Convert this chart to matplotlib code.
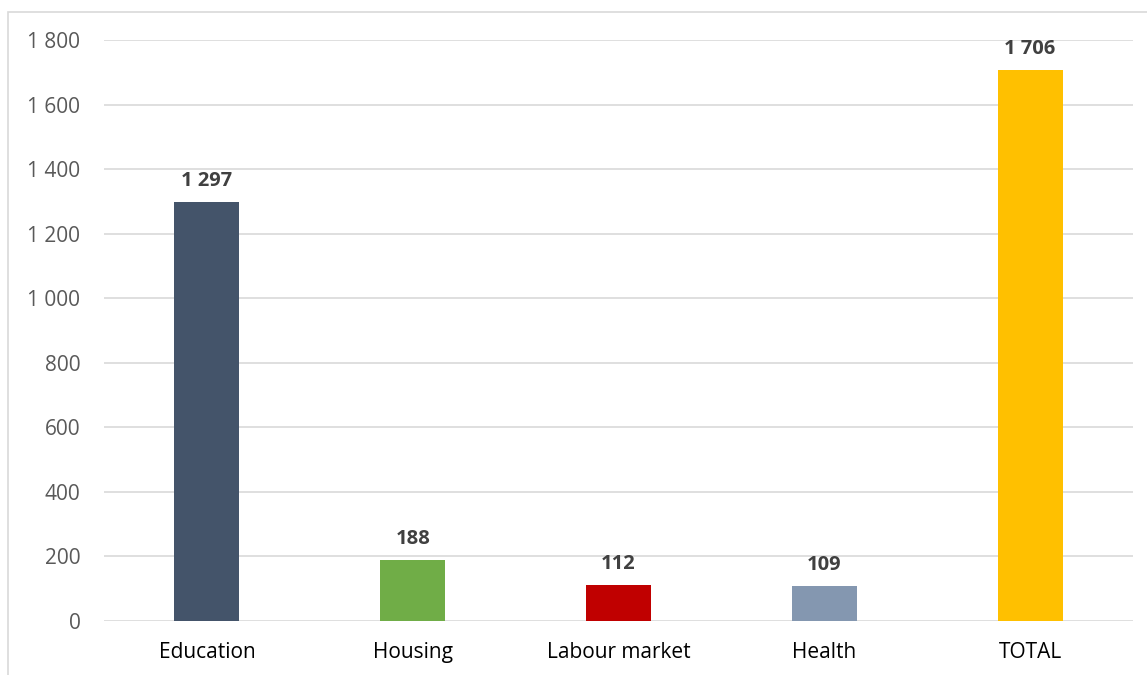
import matplotlib
matplotlib.use("Agg")
import matplotlib.pyplot as plt
from matplotlib.patches import Rectangle
from matplotlib.ticker import FuncFormatter

categories = ["Education", "Housing", "Labour market", "Health", "TOTAL"]
values = [1297, 188, 112, 109, 1706]
colors = ["#44546A", "#70AD47", "#C00000", "#8497B0", "#FFC000"]
yticks = [0, 200, 400, 600, 800, 1000, 1200, 1400, 1600, 1800]

plt.rcParams['font.family'] = ['Open Sans', 'DejaVu Sans']

W, H = 1147, 675
fig = plt.figure(figsize=(W / 100, H / 100), dpi=100)
fig.patches.append(Rectangle((8 / W, -0.1), 1.2, 1 - 12 / H + 0.1, transform=fig.transFigure,
                             fill=False, edgecolor="#D9D9D9", linewidth=1.2))

ax = fig.add_axes([104 / W, 1 - 621 / H, (1133 - 104) / W, (621 - 40) / H])
x = range(len(categories))
ax.bar(x, values, width=0.316, color=colors, zorder=3)
ax.set_xlim(-0.5, len(categories) - 0.5)
ax.set_ylim(0, 1800)
ax.set_yticks(yticks)
ax.yaxis.set_major_formatter(FuncFormatter(lambda v, p: f"{int(v):,}".replace(",", " ")))
ax.set_xticks(list(x))
ax.set_xticklabels(categories, fontsize=15, color="#000000")
ax.tick_params(axis="y", labelsize=15, labelcolor="#595959", length=0, pad=17)
ax.tick_params(axis="x", length=0, pad=15)
ax.grid(axis="y", color="#D9D9D9", linewidth=1.2, zorder=0)
for s in ax.spines.values():
    s.set_visible(False)

for xi, v in zip(x, values):
    ax.annotate(f"{v:,}".replace(",", " "), (xi, v), xytext=(0, 8), textcoords="offset points",
                ha="center", va="bottom", fontsize=14.5, fontweight="bold", color="#404040")

fig.savefig("out.png", dpi=100)
